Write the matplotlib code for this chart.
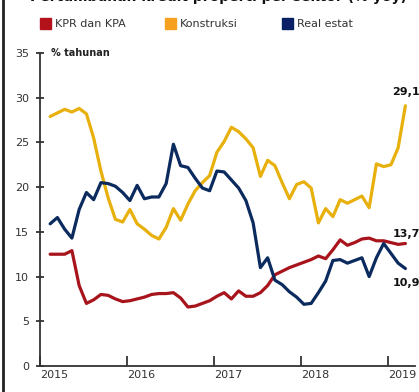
import matplotlib
matplotlib.use("Agg")
import matplotlib.pyplot as plt
from matplotlib.patches import Rectangle
from matplotlib.lines import Line2D
import numpy as np

# ---------------- data ----------------
series_names = ["KPR dan KPA", "Konstruksi", "Real estat"]
start_year = 2015
n_months = 50
year_ticks = [2015, 2016, 2017, 2018, 2019]
y_ticks = [0, 5, 10, 15, 20, 25, 30, 35]

kpr = [12.5, 12.5, 12.5, 12.9, 9.0, 7.0, 7.4, 8.0, 7.9, 7.5,
       7.2, 7.3, 7.5, 7.7, 8.0, 8.1, 8.1, 8.2, 7.6, 6.6,
       6.7, 7.0, 7.3, 7.8, 8.2, 7.5, 8.4, 7.8, 7.8, 8.2,
       9.0, 10.2, 10.6, 11.0, 11.3, 11.6, 11.9, 12.3, 12.0, 13.0,
       14.1, 13.5, 13.8, 14.2, 14.3, 14.0, 14.0, 13.8, 13.6, 13.7]

konstruksi = [27.9, 28.3, 28.7, 28.4, 28.8, 28.2, 25.5, 21.8, 18.8, 16.4,
              16.1, 17.5, 15.9, 15.3, 14.6, 14.2, 15.5, 17.6, 16.3, 18.1,
              19.6, 20.5, 21.3, 23.9, 25.1, 26.7, 26.2, 25.4, 24.4, 21.2,
              23.0, 22.4, 20.5, 18.7, 20.3, 20.6, 19.9, 16.0, 17.6, 16.7,
              18.6, 18.2, 18.6, 19.0, 17.7, 22.6, 22.3, 22.5, 24.4, 29.1]

real_estat = [15.9, 16.6, 15.3, 14.3, 17.5, 19.4, 18.6, 20.5, 20.4, 20.1,
              19.4, 18.5, 20.2, 18.7, 18.9, 18.9, 20.4, 24.8, 22.4, 22.2,
              21.0, 19.9, 19.6, 21.8, 21.7, 20.8, 19.9, 18.5, 16.0, 11.0,
              12.1, 9.6, 9.1, 8.3, 7.7, 6.9, 7.0, 8.2, 9.5, 11.8,
              11.9, 11.5, 11.8, 12.1, 10.0, 12.1, 13.7, 12.6, 11.5, 10.9]

end_labels = ["13,7", "29,1", "10,9"]

# ---------------- style ----------------
line_colors = ["#a8141c", "#e8b00c", "#0b2a5e"]
legend_colors = ["#b3121b", "#f5a01e", "#0a1f66"]
W, H = 419, 392
fig = plt.figure(figsize=(W / 100, H / 100), dpi=100)
fam = ["Liberation Sans Narrow", "DejaVu Sans"]

x = start_year + (np.arange(n_months) + 1.4) / 12.0

ax = fig.add_axes([40 / W, 1 - 366 / H, 375 / W, (366 - 53) / H])
for vals, col in zip([kpr, konstruksi, real_estat], line_colors):
    ax.plot(x, vals, color=col, lw=2.3, solid_joinstyle="round",
            solid_capstyle="round", zorder=3)

ax.set_xlim(2015, 2015 + 375 / 87)
ax.set_ylim(0, 35)
ax.set_yticks(y_ticks)
ax.set_yticklabels([str(v) for v in y_ticks], fontfamily=fam, fontsize=8,
                   color="#333333")
ax.set_xticks(year_ticks)
ax.set_xticklabels([str(v) for v in year_ticks], fontfamily=fam, fontsize=8,
                   color="#333333", ha="left")
ax.tick_params(axis="y", direction="inout", length=6, width=1.2,
               color="#222222", pad=5)
ax.tick_params(axis="x", direction="in", length=7, width=1.2,
               color="#222222", pad=3)
for s in ["top", "right"]:
    ax.spines[s].set_visible(False)
for s in ["left", "bottom"]:
    ax.spines[s].set_color("#333333")
    ax.spines[s].set_linewidth(1.3)

# "% tahunan" unit label
ax.text(0.03, 35, "% tahunan", transform=ax.get_yaxis_transform(),
        fontsize=7, fontweight="bold", fontfamily=fam, va="center",
        ha="left", color="#222222")

# end labels
last_vals = [kpr[-1], konstruksi[-1], real_estat[-1]]
offsets = [1.1, 1.5, -1.6]
for lab, v, off in zip(end_labels, last_vals, offsets):
    ax.text(x[-1] - 0.15, v + off, lab, fontsize=8, fontweight="bold",
            fontfamily=fam, color="#111111", ha="left", va="center",
            clip_on=False)

# legend (manual)
leg_x = [40, 165, 282]
for name, col, lx in zip(series_names, legend_colors, leg_x):
    fig.patches.append(Rectangle((lx / W, 1 - 29 / H), 11 / W, 11 / H,
                                 transform=fig.transFigure, color=col))
    fig.text((lx + 15) / W, 1 - 24 / H, name, fontsize=8, fontfamily=fam,
             color="#333333", va="center", ha="left")

# partially visible title at the very top
fig.text(30 / W, 1.0 + 3 / H, "Pertumbuhan kredit properti per sektor (% yoy)",
         fontsize=10, fontweight="bold", fontfamily=fam, color="#111111",
         va="center", ha="left")

# left frame line
fig.add_artist(Line2D([2.5 / W, 2.5 / W], [0, 1], transform=fig.transFigure,
                      color="#222222", lw=2))

fig.savefig("out.png", dpi=100)
